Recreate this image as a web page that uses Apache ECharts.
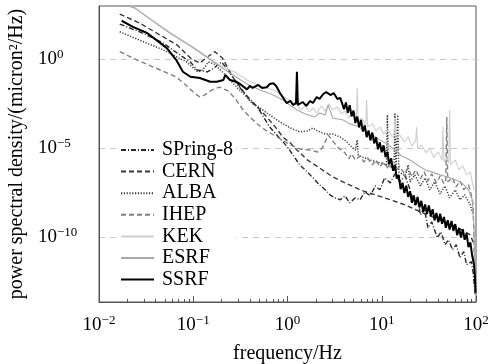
<!DOCTYPE html>
<html>
<head>
<meta charset="utf-8">
<script src="https://cdn.jsdelivr.net/npm/echarts@6/dist/echarts.min.js"></script>
<style>
  html, body { margin: 0; background: #fff; }
  #chart { width: 488px; height: 364px; }
</style>
</head>
<body>
<div id="chart"></div>
<script>
// every point is [log10(frequency / Hz), log10(PSD / (micron^2/Hz))]
const seriesNames = ['SPring-8', 'CERN', 'ALBA', 'IHEP', 'KEK', 'ESRF', 'SSRF'];

const spring8 = [[-1.78,1.98],[-1.57,1.55],[-1.32,0.92],[-1.14,0.24],[-1.03,-0.15],[-0.96,-0.60],[-0.85,-0.71],[-0.78,-0.49],[-0.70,-0.15],[-0.63,-0.60],[-0.53,-1.44],[-0.43,-2.06],[-0.32,-2.68],[-0.19,-3.80],[0.00,-4.93],[0.13,-5.94],[0.21,-6.33],[0.29,-6.78],[0.34,-7.06],[0.40,-7.34],[0.45,-7.62],[0.50,-7.79],[0.56,-7.90],[0.61,-7.68],[0.66,-8.07],[0.72,-7.79],[0.77,-7.90],[0.82,-7.45],[0.88,-7.68],[0.93,-7.12],[0.98,-7.34],[1.03,-6.67],[1.09,-6.95],[1.14,-6.44],[1.19,-6.89],[1.25,-6.56],[1.30,-7.34],[1.35,-8.19],[1.38,-7.79],[1.41,-8.75],[1.45,-8.35],[1.49,-9.48],[1.53,-9.14],[1.59,-10.04],[1.63,-9.70],[1.67,-10.43],[1.71,-10.15],[1.75,-10.71],[1.79,-10.43],[1.83,-11.16],[1.87,-10.82],[1.90,-11.55],[1.95,-11.38],[1.97,-12.0],[1.99,-13.24]];

const cern = [[-1.78,2.54],[-1.57,2.04],[-1.32,1.27],[-1.17,0.80],[-1.03,0.07],[-0.93,-0.21],[-0.85,0.13],[-0.77,0.43],[-0.69,0.07],[-0.58,-1.0],[-0.48,-1.72],[-0.40,-2.29],[-0.31,-2.74],[-0.22,-3.24],[-0.13,-3.80],[-0.05,-4.37],[0.03,-4.70],[0.10,-5.10],[0.21,-5.66],[0.34,-6.11],[0.48,-6.61],[0.61,-6.95],[0.77,-7.34],[0.93,-7.62],[1.09,-7.90],[1.25,-8.19],[1.41,-8.58],[1.56,-8.92],[1.72,-9.25],[1.85,-9.59],[1.94,-9.87],[1.98,-10.43]];

const alba = [[-1.78,1.55],[-1.57,1.08],[-1.32,0.54],[-1.07,-0.15],[-0.95,-0.71],[-0.90,-0.60],[-0.84,-0.15],[-0.78,-0.26],[-0.69,-0.71],[-0.61,-1.16],[-0.53,-1.61],[-0.45,-2.01],[-0.38,-2.46],[-0.29,-2.74],[-0.19,-3.13],[-0.08,-3.52],[0.03,-3.86],[0.13,-4.08],[0.21,-4.03],[0.27,-3.86],[0.32,-4.03],[0.40,-4.20],[0.48,-4.20],[0.56,-4.37],[0.63,-4.65],[0.69,-4.98],[0.72,-5.10],[0.74,-4.53],[0.75,-5.38],[0.79,-5.49],[0.88,-5.66],[0.98,-5.83],[1.05,-5.94],[1.06,-3.13],[1.07,-5.99],[1.13,-6.11],[1.14,-3.02],[1.15,-6.22],[1.17,-3.13],[1.18,-6.33],[1.25,-6.56],[1.28,-5.94],[1.30,-6.89],[1.35,-6.50],[1.41,-7.12],[1.46,-6.67],[1.51,-7.34],[1.56,-6.89],[1.62,-7.57],[1.67,-7.12],[1.72,-7.79],[1.78,-7.34],[1.83,-7.90],[1.88,-7.62],[1.94,-8.19],[1.97,-8.75]];

const ihep = [[-1.78,0.43],[-1.57,-0.10],[-1.35,-0.60],[-1.18,-1.0],[-1.09,-1.39],[-1.0,-1.84],[-0.93,-2.12],[-0.88,-2.01],[-0.80,-1.72],[-0.72,-1.56],[-0.63,-1.78],[-0.56,-2.17],[-0.47,-2.85],[-0.40,-3.24],[-0.31,-3.68],[-0.22,-4.03],[-0.11,-4.37],[0.03,-4.81],[0.13,-5.04],[0.24,-5.10],[0.32,-5.21],[0.37,-4.98],[0.41,-4.53],[0.43,-4.25],[0.47,-4.53],[0.54,-4.98],[0.61,-5.26],[0.65,-5.60],[0.68,-5.32],[0.72,-5.66],[0.77,-5.43],[0.81,-5.77],[0.85,-5.54],[0.90,-5.94],[0.94,-5.66],[0.98,-6.05],[1.02,-5.77],[1.07,-6.17],[1.11,-5.88],[1.15,-6.33],[1.19,-5.99],[1.24,-6.44],[1.28,-6.11],[1.32,-6.61],[1.36,-6.22],[1.41,-6.73],[1.45,-6.33],[1.49,-6.84],[1.53,-6.44],[1.58,-6.95],[1.62,-6.56],[1.66,-7.0],[1.68,-6.78],[1.69,-3.24],[1.70,-6.89],[1.75,-6.67],[1.79,-7.17],[1.83,-6.84],[1.87,-7.34],[1.92,-7.06],[1.95,-7.62],[1.97,-8.19],[1.99,-12.96]];

const kek = [[-1.78,3.5],[-1.66,3.05],[-1.46,2.32],[-1.25,1.53],[-1.03,0.80],[-0.86,0.19],[-0.77,-0.15],[-0.66,-0.49],[-0.56,-0.71],[-0.43,-1.16],[-0.29,-1.50],[-0.15,-1.72],[-0.05,-2.06],[0.10,-2.57],[0.14,-2.85],[0.19,-2.62],[0.23,-2.96],[0.27,-2.74],[0.31,-3.02],[0.36,-2.62],[0.40,-2.91],[0.44,-2.51],[0.48,-2.85],[0.53,-2.68],[0.57,-3.07],[0.61,-2.91],[0.65,-3.30],[0.69,-3.07],[0.73,-3.35],[0.74,-1.61],[0.75,-3.46],[0.79,-3.30],[0.83,-3.75],[0.84,-2.29],[0.85,-3.80],[0.90,-3.63],[0.94,-4.03],[0.98,-3.80],[1.02,-4.20],[1.07,-3.97],[1.11,-4.37],[1.13,-4.20],[1.14,-3.30],[1.15,-4.48],[1.19,-4.25],[1.24,-4.65],[1.28,-4.37],[1.32,-4.87],[1.36,-4.59],[1.37,-3.80],[1.38,-5.04],[1.42,-4.81],[1.47,-5.26],[1.51,-4.98],[1.55,-5.52],[1.60,-5.21],[1.64,-5.66],[1.65,-3.80],[1.66,-5.77],[1.69,-5.49],[1.71,-5.83],[1.72,-2.85],[1.73,-5.94],[1.78,-5.66],[1.82,-6.22],[1.86,-5.99],[1.90,-6.50],[1.94,-6.33],[1.96,-6.89],[1.98,-7.34]];

const esrf = [[-1.78,3.16],[-1.62,2.88],[-1.46,2.26],[-1.25,1.48],[-1.03,0.75],[-0.86,0.13],[-0.77,-0.21],[-0.66,-0.60],[-0.56,-0.94],[-0.43,-1.39],[-0.29,-1.72],[-0.15,-2.01],[-0.05,-2.29],[0.10,-2.85],[0.19,-3.07],[0.29,-3.24],[0.34,-3.02],[0.40,-3.13],[0.43,-2.57],[0.45,-2.85],[0.48,-3.30],[0.59,-3.41],[0.66,-3.63],[0.74,-3.75],[0.82,-4.03],[0.90,-4.25],[0.98,-4.53],[1.07,-4.81],[1.14,-5.10],[1.21,-5.43],[1.30,-5.66],[1.38,-5.94],[1.46,-6.22],[1.53,-6.33],[1.62,-6.50],[1.69,-6.61],[1.78,-6.78],[1.85,-6.95],[1.92,-7.34],[1.96,-7.90],[1.98,-9.59],[1.99,-13.24]];

const ssrf = [[-1.76,2.17],[-1.64,1.83],[-1.49,1.48],[-1.39,1.08],[-1.28,0.63],[-1.18,-0.04],[-1.11,-0.70],[-1.03,-0.98],[-0.93,-1.05],[-0.82,-1.26],[-0.75,-1.26],[-0.68,-1.16],[-0.66,-0.88],[-0.61,-1.16],[-0.54,-1.26],[-0.49,-1.44],[-0.43,-1.69],[-0.40,-1.50],[-0.37,-1.61],[-0.31,-1.44],[-0.27,-1.61],[-0.22,-1.57],[-0.19,-1.39],[-0.15,-1.35],[-0.12,-1.50],[-0.08,-1.89],[-0.01,-2.46],[0.03,-2.34],[0.06,-2.57],[0.09,-2.46],[0.10,-0.70],[0.11,-2.57],[0.13,-2.68],[0.16,-2.40],[0.20,-2.62],[0.24,-2.34],[0.27,-2.46],[0.31,-2.12],[0.34,-2.23],[0.38,-1.95],[0.41,-1.84],[0.43,-1.78],[0.46,-2.01],[0.49,-1.89],[0.53,-2.23],[0.56,-2.17],
  [0.58,-2.13],[0.60,-2.81],[0.62,-2.43],[0.64,-3.01],[0.66,-2.58],[0.68,-3.21],[0.70,-2.88],[0.72,-3.58],[0.74,-3.22],[0.76,-3.82],[0.78,-3.41],[0.80,-4.06],[0.82,-3.72],[0.84,-4.38],[0.86,-4.0],[0.88,-4.56],[0.90,-4.12],[0.92,-4.73],[0.94,-4.39],[0.96,-5.06],[0.98,-4.67],[1.00,-5.23],[1.02,-4.84],[1.04,-5.50],[1.06,-5.20],[1.08,-5.91],[1.10,-5.57],[1.12,-6.27],[1.14,-5.96],[1.16,-6.71],[1.18,-6.50],[1.20,-7.30],[1.22,-6.94],[1.24,-7.52],[1.26,-7.11],[1.28,-7.74],[1.30,-7.43],[1.32,-8.07],[1.34,-7.66],[1.36,-8.20],[1.38,-7.74],[1.40,-8.33],[1.42,-7.96],[1.44,-8.59],[1.46,-8.16],[1.48,-8.69],[1.50,-8.22],[1.52,-8.80],[1.54,-8.43],[1.56,-9.06],[1.58,-8.64],[1.60,-9.17],[1.62,-8.69],[1.64,-9.25],[1.66,-8.87],[1.68,-9.48],[1.70,-9.05],[1.72,-9.57],[1.74,-9.09],[1.76,-9.65],[1.78,-9.27],[1.80,-9.89],[1.82,-9.48],[1.84,-10.02],[1.86,-9.56],[1.88,-10.15],[1.90,-9.79],[1.92,-10.56],[1.94,-10.29],[1.96,-11.05],[1.97,-10.96],[1.98,-11.6],[1.99,-12.4],[1.995,-13.13]];

const seriesData = [spring8, cern, alba, ihep, kek, esrf, ssrf];

// decade exponents carrying a label
const xLabelExps = [-2, -1, 0, 1, 2];
const yLabelExps = [-10, -5, 0];

// styles for each series, same order as seriesNames
const looks = [
  { color: '#2a2a2a', width: 1.4, type: [5, 2, 1, 2] },
  { color: '#383838', width: 1.4, type: [5, 3] },
  { color: '#3a3a3a', width: 1.5, type: [1.2, 1.6] },
  { color: '#808080', width: 1.4, type: [5, 3] },
  { color: '#cfcfcf', width: 1.1, type: 'solid' },
  { color: '#a8a8a8', width: 1.1, type: 'solid' },
  { color: '#000000', width: 2, type: 'solid' }
];

// minor ticks at 2..9 times each decade, in log10 units
const minorTicks = [];
for (let k = -2; k < 2; k++) {
  for (let m = 2; m <= 9; m++) minorTicks.push(k + Math.log10(m));
}

function powLabel(v) {
  return '{b|10}{s|' + String(Math.round(v)).replace('-', '\u2212') + '}';
}

const richLabel = {
  b: { fontSize: 19, fontFamily: 'Liberation Serif', color: '#000', lineHeight: 22 },
  s: { fontSize: 13, fontFamily: 'Liberation Serif', color: '#000', lineHeight: 12, verticalAlign: 'top' }
};

const chart = echarts.init(document.getElementById('chart'));

chart.setOption({
  animation: false,
  grid: {
    left: 99, right: 12, top: 6, bottom: 62,
    containLabel: false,
    outerBoundsMode: 'none',
    show: true, borderColor: '#555', borderWidth: 1, backgroundColor: 'transparent'
  },
  legend: {
    orient: 'vertical',
    left: 117,
    top: 137,
    padding: 3,
    itemWidth: 33,
    itemHeight: 10,
    itemGap: 1.6,
    backgroundColor: '#fff',
    data: seriesNames,
    itemStyle: { opacity: 0 },
    textStyle: {
      fontFamily: 'Liberation Serif', fontSize: 20, color: '#000',
      lineHeight: 20, padding: [0, 0, 0, 3]
    }
  },
  xAxis: [{
    type: 'value',
    min: -2,
    max: 2,
    interval: 1,
    name: 'frequency/Hz',
    nameLocation: 'middle',
    nameGap: 42,
    nameTextStyle: { fontFamily: 'Liberation Serif', fontSize: 20, color: '#000' },
    axisLine: { onZero: false, lineStyle: { color: '#555' } },
    axisTick: { inside: true, length: 3, customValues: minorTicks, lineStyle: { color: '#555' } },
    axisLabel: { customValues: xLabelExps, margin: 12, formatter: powLabel, rich: richLabel },
    splitLine: { show: false }
  }, {
    type: 'value',
    min: -2,
    max: 2,
    interval: 1,
    position: 'bottom',
    axisLine: { show: false, onZero: false },
    axisTick: { inside: true, length: 6, customValues: xLabelExps, lineStyle: { color: '#555' } },
    axisLabel: { show: false },
    splitLine: { show: false }
  }],
  yAxis: {
    type: 'value',
    min: -13.65,
    max: 3,
    name: 'power spectral density/(micron\u00b2/Hz)',
    nameLocation: 'middle',
    nameGap: 64,
    nameTextStyle: { fontFamily: 'Liberation Serif', fontSize: 20, color: '#000' },
    axisLine: { onZero: false, lineStyle: { color: '#555' } },
    axisTick: { show: false, customValues: yLabelExps },
    axisLabel: { customValues: yLabelExps, align: 'left', margin: 61, formatter: powLabel, rich: richLabel },
    splitLine: { show: true, lineStyle: { color: '#c8c8c8', type: [6, 5], width: 1 } }
  },
  series: seriesNames.map((name, i) => ({
    name: name,
    type: 'line',
    symbol: 'none',
    data: seriesData[i],
    lineStyle: { color: looks[i].color, width: looks[i].width, type: looks[i].type },
    itemStyle: { color: looks[i].color },
    z: 2 + i
  }))
});
</script>
</body>
</html>
